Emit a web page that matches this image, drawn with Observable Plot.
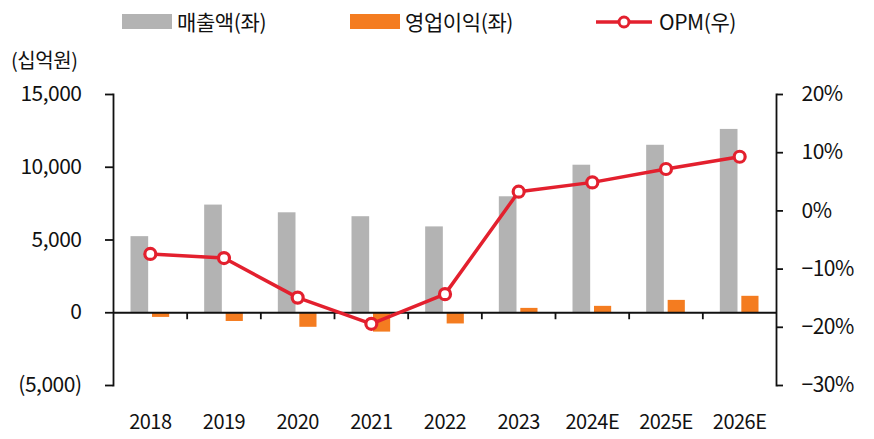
<!DOCTYPE html>
<html><head><meta charset="utf-8">
<script src="https://cdn.jsdelivr.net/npm/d3@7"></script>
<script src="https://cdn.jsdelivr.net/npm/@observablehq/plot@0.6"></script>
<style>
body{margin:0;background:#fff;font-family:"Noto Sans CJK KR","Noto Sans",sans-serif;}
#wrap{position:relative;width:874px;height:439px;overflow:hidden;}
#wrap svg{position:absolute;left:0;top:0;}
.leg{position:absolute;font-size:21px;color:#111;letter-spacing:-0.4px;line-height:22px;white-space:nowrap;}
.sw{position:absolute;}
</style></head><body><div id="wrap"></div>
<script>
const years = ["2018","2019","2020","2021","2022","2023","2024E","2025E","2026E"];
const revenue = [5230, 7400, 6870, 6600, 5900, 7970, 10140, 11510, 12600];
const opProfit = [-320, -600, -1000, -1330, -770, 300, 440, 850, 1130];
const opm = [-7.4, -8.1, -14.9, -19.4, -14.3, 3.3, 4.9, 7.2, 9.3];
const leftTicks = [-5000, 0, 5000, 10000, 15000];
const rightTicks = [-30, -20, -10, 0, 10, 20];
const seriesNames = ["매출액(좌)", "영업이익(좌)", "OPM(우)"];
const unitLabel = "(십억원)";

const GRAY = "#b3b3b3", ORANGE = "#f47c20", RED = "#e3202e";
const toLeft = p => -5000 + (p + 30) * 400;
const toRight = v => (v + 5000) / 400 - 30;
const fmt = d3.format(",");
const fmtLeft = d => d < 0 ? `(${fmt(-d)})` : fmt(d);
const fmtPct = p => { const r = Math.round(p); return (r < 0 ? "\u2212" + (-r) : r) + "%"; };

const data = years.map((y, i) => ({year: y, rev: revenue[i], op: opProfit[i], opm: opm[i]}));
const W = 874, H = 439, mL = 113, mR = 98;
const bw = (W - mL - mR) / years.length;
const FONT = '"Noto Sans CJK KR","Noto Sans",sans-serif';

const plot = Plot.plot({
  width: W, height: H,
  marginLeft: mL, marginRight: mR, marginTop: 94, marginBottom: 54,
  style: {fontFamily: FONT, fontSize: "21px", color: "#111", background: "transparent", overflow: "visible", letterSpacing: "-0.5px"},
  x: {domain: years, padding: 0, round: false},
  y: {domain: [-5000, 15000]},
  marks: [
    Plot.barY(data, {x: "year", y: "rev", fill: GRAY, insetLeft: 17.5, insetRight: 38.5}),
    Plot.barY(data, {x: "year", y: "op", fill: ORANGE, insetLeft: 39, insetRight: 17.5}),
    Plot.ruleY([0], {stroke: "#111", strokeWidth: 1.8}),
    Plot.ruleX(years.slice(1), {x: d => d, y1: 0, y2: -480, dx: -bw / 2, stroke: "#111", strokeWidth: 1.8}),
    Plot.frame({anchor: "left", stroke: "#111", strokeWidth: 1.8}),
    Plot.frame({anchor: "right", stroke: "#111", strokeWidth: 1.8}),
    Plot.axisY({ticks: leftTicks, tickSize: 8, tickPadding: 24, tickFormat: fmtLeft, strokeWidth: 1.8, label: null, fontSize: 21}),
    Plot.axisY({anchor: "right", ticks: rightTicks.map(toLeft), tickSize: 6, tickPadding: 19, tickFormat: v => fmtPct(toRight(v)), strokeWidth: 1.8, label: null, fontSize: 21}),
    Plot.axisX({anchor: "bottom", tickSize: 0, tickPadding: 29, label: null, fontSize: 20}),
    Plot.line(data, {x: "year", y: d => toLeft(d.opm), stroke: RED, strokeWidth: 3.5}),
    Plot.dot(data, {x: "year", y: d => toLeft(d.opm), r: 5.5, fill: "white", stroke: RED, strokeWidth: 3.2})
  ]
});
const wrap = document.getElementById("wrap");
wrap.appendChild(plot);

// legend
const legPos = [{sx: 122, tx: 177}, {sx: 350, tx: 405}, {sx: 596, tx: 659}];
seriesNames.forEach((name, i) => {
  const p = legPos[i];
  if (i < 2) {
    const s = document.createElement("div");
    s.className = "sw";
    Object.assign(s.style, {left: p.sx + "px", top: "14px", width: "50px", height: "15px", background: i === 0 ? GRAY : ORANGE});
    wrap.appendChild(s);
  } else {
    const ns = "http://www.w3.org/2000/svg";
    const svg = document.createElementNS(ns, "svg");
    svg.setAttribute("width", 60); svg.setAttribute("height", 20);
    Object.assign(svg.style, {position: "absolute", left: p.sx + "px", top: "12px"});
    const l = document.createElementNS(ns, "line");
    l.setAttribute("x1", 0); l.setAttribute("x2", 56); l.setAttribute("y1", 10); l.setAttribute("y2", 10);
    l.setAttribute("stroke", RED); l.setAttribute("stroke-width", 3.5);
    const c = document.createElementNS(ns, "circle");
    c.setAttribute("cx", 28); c.setAttribute("cy", 10); c.setAttribute("r", 5);
    c.setAttribute("fill", "white"); c.setAttribute("stroke", RED); c.setAttribute("stroke-width", 3);
    svg.appendChild(l); svg.appendChild(c);
    wrap.appendChild(svg);
  }
  const t = document.createElement("div");
  t.className = "leg";
  t.textContent = name;
  Object.assign(t.style, {left: p.tx + "px", top: "10px"});
  wrap.appendChild(t);
});
const u = document.createElement("div");
u.className = "leg";
u.textContent = unitLabel;
Object.assign(u.style, {left: "11px", top: "49px", fontSize: "20px"});
wrap.appendChild(u);
</script>
</body></html>
